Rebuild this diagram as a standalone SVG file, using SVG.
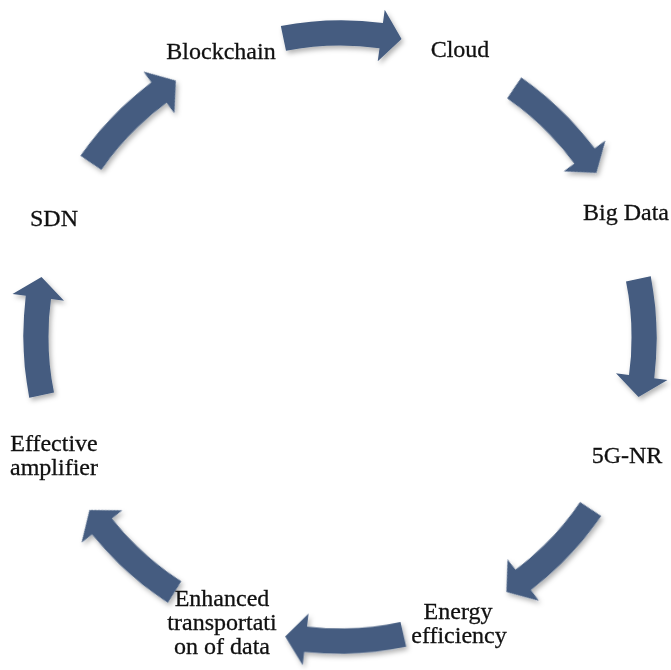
<svg xmlns="http://www.w3.org/2000/svg" width="671" height="670" viewBox="0 0 671 670">
<defs>
<style>
.lbl{font-family:"Liberation Serif","Times New Roman",serif;font-size:24px;fill:#111;stroke:#111;stroke-width:0.3;text-anchor:middle}
.arr{fill:#445c80}
</style>
<filter id="sh" x="-10%" y="-10%" width="120%" height="120%">
<feDropShadow dx="2" dy="3" stdDeviation="2.5" flood-color="#000" flood-opacity="0.3"/>
</filter>
<path id="a" d="M279.2,26.3 A317,317 0 0 1 381.3,22.7 L383.0,9.5 L400.0,38.6 L376.3,61.0 L378.0,48.0 A291,291 0 0 0 284.5,51.0 Z"/>
</defs>
<rect width="671" height="670" fill="#fff"/>
<g id="connectors" filter="url(#sh)">
<use href="#a" class="arr" transform="rotate(0.3 340 337)"/>
<use href="#a" class="arr" transform="rotate(46 340 337)"/>
<use href="#a" class="arr" transform="rotate(90 340 337)"/>
<use href="#a" class="arr" transform="rotate(135.5 340 337)"/>
<use href="#a" class="arr" transform="rotate(179 340 337)"/>
<use href="#a" class="arr" transform="rotate(224 340 337)"/>
<use href="#a" class="arr" transform="rotate(270 340 337)"/>
<use href="#a" class="arr" transform="rotate(316 340 337)"/>
</g>
<g id="n-blockchain"><text class="lbl" x="221" y="59">Blockchain</text></g>
<g id="n-cloud"><text class="lbl" x="460" y="57">Cloud</text></g>
<g id="n-bigdata"><text class="lbl" x="626" y="220">Big Data</text></g>
<g id="n-5gnr"><text class="lbl" x="627" y="463">5G-NR</text></g>
<g id="n-energy"><text class="lbl" x="458" y="619">Energy</text><text class="lbl" x="459" y="643">efficiency</text></g>
<g id="n-enhanced"><text class="lbl" x="222" y="606">Enhanced</text><text class="lbl" x="222" y="630">transportati</text><text class="lbl" x="222" y="654">on of data</text></g>
<g id="n-amplifier"><text class="lbl" x="54" y="451">Effective</text><text class="lbl" x="54" y="475">amplifier</text></g>
<g id="n-sdn"><text class="lbl" x="54" y="226">SDN</text></g>
</svg>
